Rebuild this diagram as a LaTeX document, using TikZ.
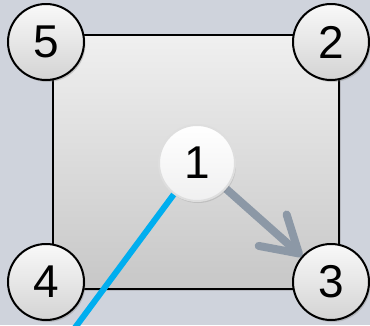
\documentclass[tikz,border=0pt]{standalone}
\usepackage{fontspec}
\setmainfont{Liberation Sans}
\usetikzlibrary{shadows,arrows.meta}
\definecolor{bgc}{HTML}{CFD3DC}
\definecolor{linkblue}{HTML}{00AEEF}
\definecolor{arrowgray}{HTML}{8C98A6}
\pgfdeclarelayer{back}
\pgfdeclarelayer{links}
\pgfsetlayers{back,links,main}
\tikzset{
  numcircle/.style={circle, draw=black, line width=2pt, minimum size=76pt, inner sep=0pt,
    top color=white!95!gray, bottom color=black!17,
    drop shadow={opacity=0.35, shadow xshift=1.5pt, shadow yshift=-2pt},
    font=\fontsize{46}{46}\selectfont},
  hubcircle/.style={circle, draw=black!13, line width=2pt, minimum size=76pt, inner sep=0pt,
    top color=white, bottom color=blue!4!black!6,
    drop shadow={opacity=0.25, shadow xshift=1pt, shadow yshift=-2pt},
    font=\fontsize{46}{46}\selectfont},
  panel/.style={draw=black, line width=2.5pt, top color=black!6, bottom color=black!22,
    drop shadow={opacity=0.3, shadow xshift=1.5pt, shadow yshift=-2pt}},
  bluelink/.style={linkblue, line width=6pt},
  grayarrow/.style={arrowgray, line width=8pt, line cap=round,
    -{Straight Barb[length=35pt, width=42pt, round]}},
}
\begin{document}
\begin{tikzpicture}[x=1pt, y=-1pt]
\begin{pgfonlayer}{back}
\fill[bgc] (0,0) rectangle (370,325);
\path[panel] (53,35) rectangle (339,289);
\end{pgfonlayer}
\clip (0,0) rectangle (370,325);
\useasboundingbox (0,0) rectangle (370,325);
\node[numcircle] (c5) at (46,42) {5};
\node[numcircle] (c2) at (331,42) {2};
\node[numcircle] (c4) at (46,282) {4};
\node[numcircle] (c3) at (331,282) {3};
\node[hubcircle] (c1) at (197,163) {1};
\coordinate (bl) at (60,348);
\begin{pgfonlayer}{links}
\draw[bluelink] (c1) -- (bl);
\draw[grayarrow] (c1) -- (c3);
\end{pgfonlayer}
\end{tikzpicture}
\end{document}
